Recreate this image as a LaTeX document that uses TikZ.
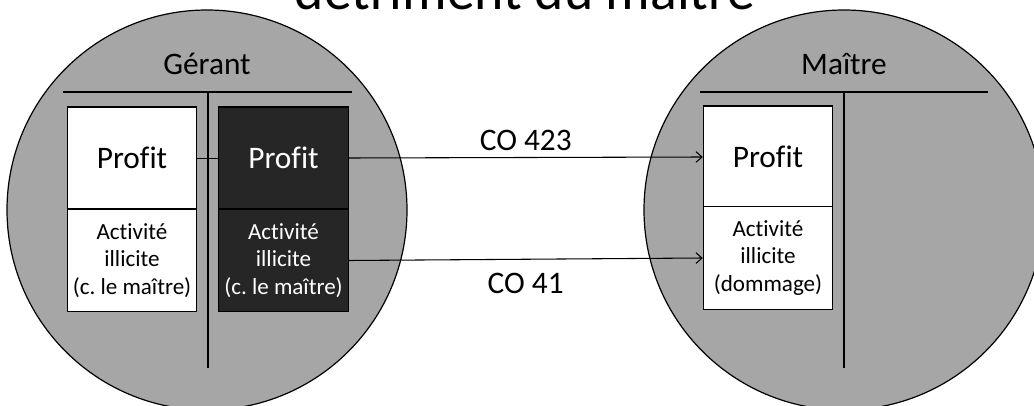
\documentclass[tikz,border=0pt]{standalone}
\usepackage{fontspec}
\setmainfont{Carlito}[Ligatures=NoCommon]
\usetikzlibrary{arrows.meta}
\frenchspacing

\definecolor{discgray}{HTML}{A6A6A6}
\definecolor{boxdark}{HTML}{262626}

\tikzset{
  party/.style={draw, circle, fill=discgray, inner sep=0pt, minimum size=300pt, line width=0.9pt},
  partyname/.style={anchor=base, font=\fontsize{23.5}{28}\selectfont},
  acct/.style={line width=0.9pt},
  box/.style={draw, rectangle, inner sep=0pt, minimum width=97pt, line width=0.8pt},
  profbox/.style={box, minimum height=76.5pt, font=\fontsize{23.5}{28}\selectfont},
  actbox/.style={box, minimum height=77pt, align=center, font=\fontsize{17.3}{20.6}\selectfont},
  lightbox/.style={fill=white},
  darkbox/.style={fill=boxdark, text=white},
  flow/.style={-{Straight Barb[length=4.5pt, width=8pt]}, line width=0.8pt},
  flowlabel/.style={inner sep=2pt, font=\fontsize{23.5}{28}\selectfont},
}

\begin{document}
\begin{tikzpicture}[x=0.75pt, y=-0.75pt]

\clip (0,0) rectangle (1034,406);

% heading, mostly above the page edge
\node[anchor=base, font=\fontsize{41.8}{50}\selectfont] at (525, 10) (title) {détriment du maître};

% the two parties
\node[party] at (207, 210) (gerant) {};
\node[party] at (844, 210) (maitre) {};
\node[partyname] at (207, 75) (gname) {Gérant};
\node[partyname] at (844, 75) (mname) {Maître};

% T accounts
\draw[acct] (63, 92) -- (352, 92);
\draw[acct] (208, 92) -- (208, 368);
\draw[acct] (700, 92) -- (988, 92);
\draw[acct] (844, 92) -- (844, 368);

% gerant, left column
\node[profbox, lightbox] at (132, 158) (gprof) {Profit};
\node[actbox, lightbox] at (132, 260.5) (gact) {Activité\\illicite\\(c. le maître)};

% gerant, right column
\node[profbox, darkbox] at (283.5, 158) (dprof) {Profit};
\node[actbox, darkbox] at (283.5, 260.5) (dact) {Activité\\illicite\\(c. le maître)};

% maitre, left column
\node[profbox, lightbox] at (768, 157) (mprof) {Profit};
\node[actbox, lightbox] at (768, 258) (mact) {Activité\\illicite\\(dommage)};

% links
\draw[line width=0.7pt] (gprof.east) -- (dprof.west);
\draw[flow] (dprof.east) -- (mprof.west) node[midway, above=3pt, flowlabel] {CO 423};
\draw[flow] (dact.east) -- (mact.west) node[midway, below=8pt, flowlabel] {CO 41};

\end{tikzpicture}
\end{document}
